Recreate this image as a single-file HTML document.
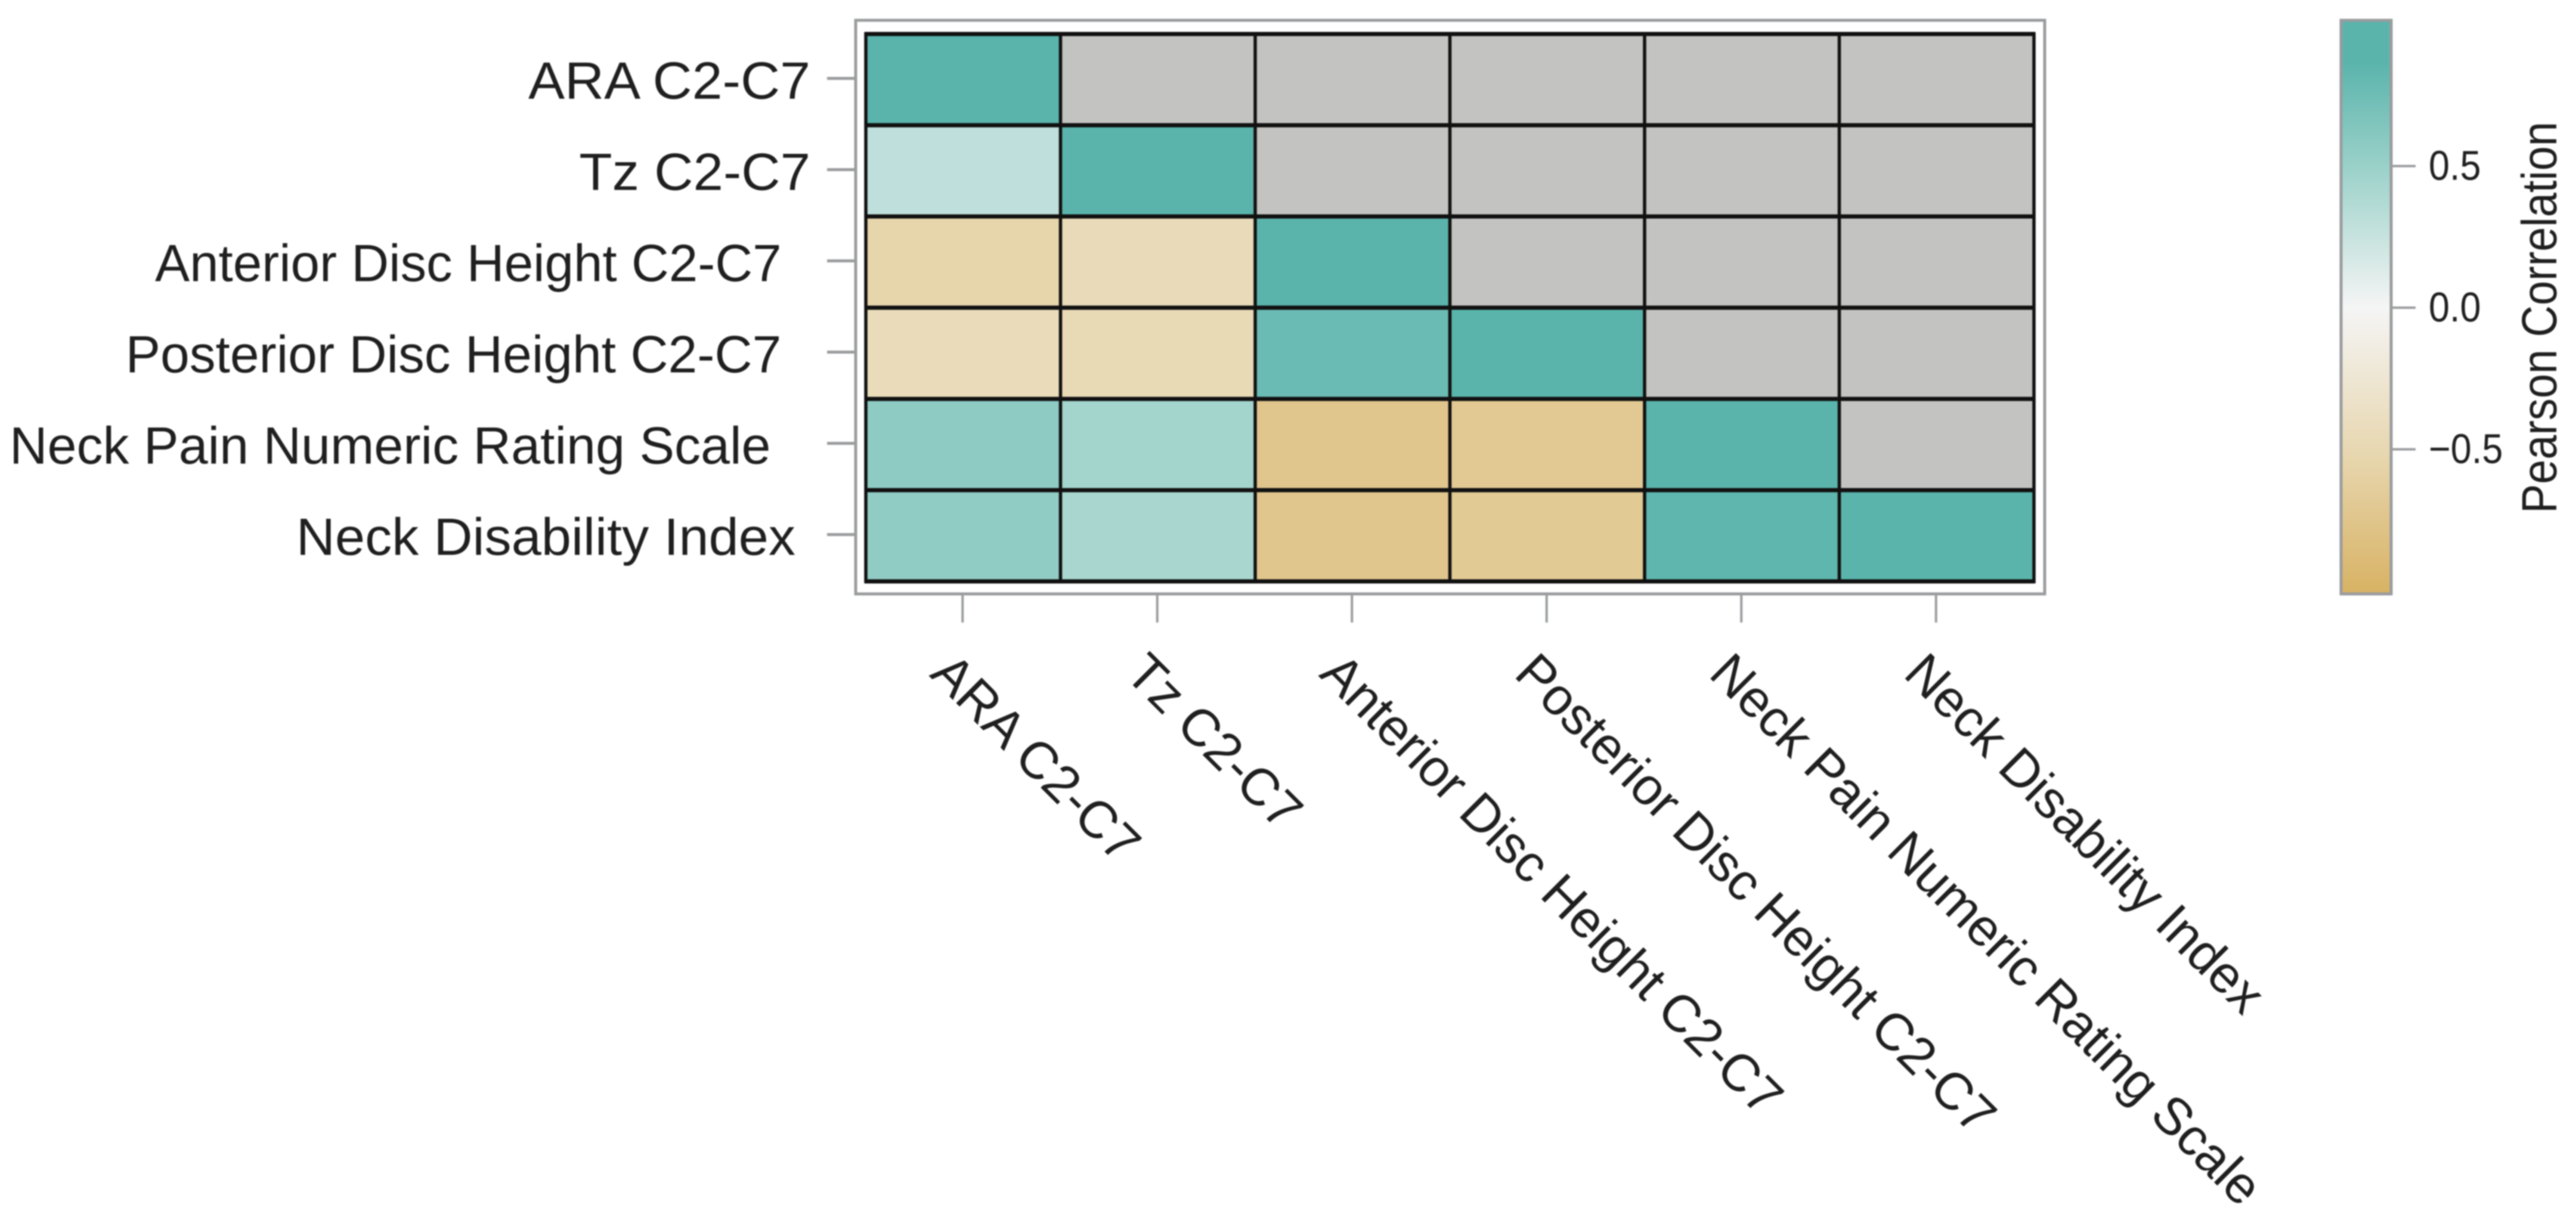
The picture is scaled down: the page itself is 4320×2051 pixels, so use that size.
<!DOCTYPE html>
<html lang="en">
<head>
<meta charset="utf-8">
<title>Pearson Correlation Heatmap</title>
<style>
  html, body { margin: 0; padding: 0; background: #ffffff; }
  body { width: 4320px; height: 2051px; overflow: hidden; }
  svg { display: block; filter: blur(1.1px); }
  text { font-family: "Liberation Sans", sans-serif; fill: #1f1f1f; white-space: pre; text-rendering: geometricPrecision; }
</style>
</head>
<body>
<svg id="chart" xmlns="http://www.w3.org/2000/svg" width="4320" height="2051" viewBox="0 0 4320 2051">
  <defs>
    <linearGradient id="cb-gradient" x1="0" y1="0" x2="0" y2="1"></linearGradient>
  </defs>
  <rect x="0" y="0" width="4320" height="2051" fill="#ffffff"></rect>
  <g id="plot"></g>
  <g id="colorbar"></g>
</svg>
<script>
// ---- Data ----
const categories = ['ARA C2-C7', 'Tz C2-C7', 'Anterior Disc Height C2-C7', 'Posterior Disc Height C2-C7', 'Neck Pain Numeric Rating Scale', 'Neck Disability Index'];
const rowLabels = ['ARA C2-C7', 'Tz C2-C7', 'Anterior Disc Height C2-C7  ', 'Posterior Disc Height C2-C7  ', 'Neck Pain Numeric Rating Scale  \u2009', 'Neck Disability Index '];
const rowAra = [1, null, null, null, null, null];
const rowTz = [0.30, 1, null, null, null, null];
const rowAnterior = [-0.54, -0.45, 1, null, null, null];
const rowPosterior = [-0.43, -0.47, 0.78, 1, null, null];
const rowNeckPain = [0.575, 0.45, -0.75, -0.70, 1, null];
const rowDisability = [0.56, 0.42, -0.74, -0.69, 0.84, 1];
const correlationRows = [rowAra, rowTz, rowAnterior, rowPosterior, rowNeckPain, rowDisability];
const colorbarTicks = [0.5, 0, -0.5];
const colorbarTickLabels = ['0.5', '0.0', '\u22120.5'];
const colorbarTitle = 'Pearson Correlation';
const scaleValues = [1, 0.87, 0.5, 0, -0.5, -1];
const scaleColors = ['#5ab4ac', '#5ab4ac', '#9ad1c9', '#f5f5f5', '#e8d8b2', '#d8b365'];
const missingColor = '#c3c3c1';

// ---- Layout ----
const SVGNS = 'http://www.w3.org/2000/svg';
const plot = document.getElementById('plot');
const colorbar = document.getElementById('colorbar');
const gridLeft = 1452, gridRight = 3411, gridTop = 57, gridBottom = 975;
const frameLeft = 1435, frameRight = 3429, frameTop = 34, frameBottom = 996;
const axisGray = '#9a9c9e';
const cbLeft = 3926, cbRight = 4010, cbTop = 34, cbBottom = 996;

function xEdge(i) { return gridLeft + i * (gridRight - gridLeft) / categories.length; }
function yEdge(i) { return gridTop + i * (gridBottom - gridTop) / correlationRows.length; }
function xCenter(i) { return (xEdge(i) + xEdge(i + 1)) / 2; }
function yCenter(i) { return (yEdge(i) + yEdge(i + 1)) / 2; }
function cbY(v) { return 516 - v * 475; }
function labelStretch(i) { return [1.04, 1.03, 0.99, 0.995, 1, 1.025][i]; }

function hexToRgb(h) {
  return [parseInt(h.slice(1, 3), 16), parseInt(h.slice(3, 5), 16), parseInt(h.slice(5, 7), 16)];
}
function colorFor(v) {
  if (v === null) return missingColor;
  for (let i = 0; i < scaleValues.length - 1; i++) {
    const hi = scaleValues[i], lo = scaleValues[i + 1];
    if (v <= hi && v >= lo) {
      const t = (hi - v) / (hi - lo);
      const a = hexToRgb(scaleColors[i]), b = hexToRgb(scaleColors[i + 1]);
      const c = a.map(function (x, k) { return Math.round(x + (b[k] - x) * t); });
      return 'rgb(' + c.join(',') + ')';
    }
  }
  return v > 0 ? scaleColors[0] : scaleColors[scaleColors.length - 1];
}
function make(tag, parent, attrs) {
  const el = document.createElementNS(SVGNS, tag);
  Object.keys(attrs).forEach(function (k) { el.setAttribute(k, attrs[k]); });
  parent.appendChild(el);
  return el;
}

// ---- Plot frame ----
const frame = make('rect', plot, { x: frameLeft, y: frameTop, width: frameRight - frameLeft, height: frameBottom - frameTop, fill: '#ffffff', stroke: axisGray, 'stroke-width': 5 });



// ---- Cells ----
correlationRows.forEach(function (row, r) {
  row.forEach(function (v, c) {
    const cell = make('rect', plot, { x: xEdge(c), y: yEdge(r), width: xEdge(c + 1) - xEdge(c), height: yEdge(r + 1) - yEdge(r), fill: colorFor(v) });
    
    
  });
});

// ---- Grid lines ----
for (let i = 0; i <= categories.length; i++) {
  const vLine = make('line', plot, { x1: xEdge(i), x2: xEdge(i), y1: gridTop - 3, y2: gridBottom + 3, stroke: '#111111', 'stroke-width': 5.5 });
  
  
}
for (let i = 0; i <= correlationRows.length; i++) {
  const hLine = make('line', plot, { x1: gridLeft - 2, x2: gridRight + 2, y1: yEdge(i), y2: yEdge(i), stroke: '#111111', 'stroke-width': 7 });
  
  
}

// ---- Y axis ----
rowLabels.forEach(function (label, i) {
  const tick = make('line', plot, { x1: 1387, x2: frameLeft, y1: yCenter(i) - 2, y2: yCenter(i) - 2, stroke: axisGray, 'stroke-width': 5 });
  
  
  const text = make('text', plot, { x: 0, y: 0, 'font-size': 88, 'text-anchor': 'end', transform: 'translate(1359,' + (yCenter(i) + 32) + ') scale(' + labelStretch(i) + ',1)' });
  text.textContent = label;
  
  
});

// ---- X axis ----
categories.forEach(function (label, i) {
  const tick = make('line', plot, { x1: xCenter(i) - 1, x2: xCenter(i) - 1, y1: frameBottom, y2: 1044, stroke: axisGray, 'stroke-width': 4 });
  
  
  const px = xCenter(i) - 58, py = 1133;
  const text = make('text', plot, { x: 0, y: 0, 'font-size': 88, transform: 'translate(' + px + ',' + py + ') rotate(45) scale(0.99,1)' });
  text.textContent = label;
  
  
});

// ---- Colorbar ----
const gradient = document.getElementById('cb-gradient');
scaleValues.forEach(function (v, i) {
  make('stop', gradient, { offset: (cbY(v) - cbTop) / (cbBottom - cbTop), 'stop-color': scaleColors[i] });
});
const bar = make('rect', colorbar, { x: cbLeft, y: cbTop, width: cbRight - cbLeft, height: cbBottom - cbTop, fill: 'url(#cb-gradient)', stroke: axisGray, 'stroke-width': 5 });



colorbarTicks.forEach(function (v, i) {
  const tick = make('line', colorbar, { x1: cbRight, x2: 4051, y1: cbY(v), y2: cbY(v), stroke: axisGray, 'stroke-width': 4 });
  
  
  const label = make('text', colorbar, { x: 0, y: 0, 'font-size': 70, transform: 'translate(4073,' + (cbY(v) + 23) + ') scale(0.9,1)' });
  label.textContent = colorbarTickLabels[i];
  
  
});

const cbTitle = make('text', colorbar, { x: 0, y: 0, 'font-size': 83, transform: 'translate(4287,861) rotate(-90) scale(0.89,1)' });
cbTitle.textContent = colorbarTitle;


</script>
</body>
</html>
